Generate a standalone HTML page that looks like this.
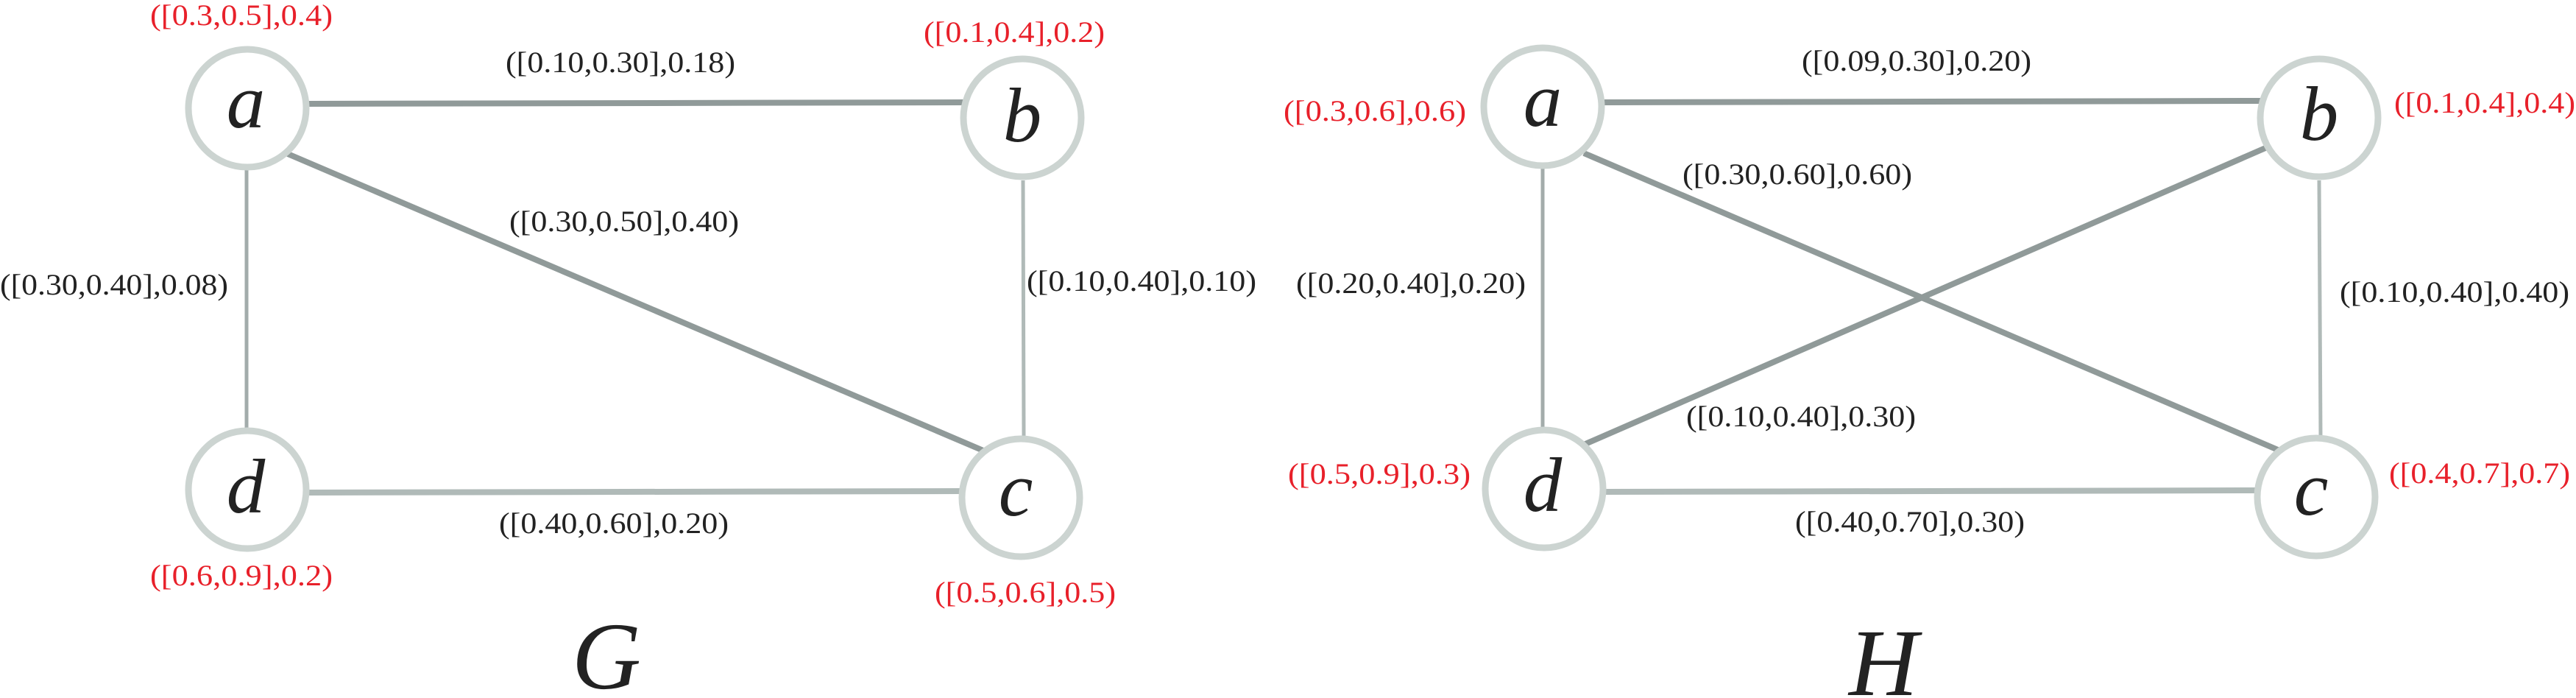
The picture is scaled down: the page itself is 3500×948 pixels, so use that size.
<!DOCTYPE html>
<html><head><meta charset="utf-8"><style>html,body{margin:0;padding:0;background:#fff}svg{display:block}
.t{font-family:"Liberation Serif","DejaVu Serif",serif}
</style></head>
<body>
<svg width="3500" height="948" viewBox="0 0 3500 948" xmlns="http://www.w3.org/2000/svg">
<g stroke-linecap="butt" fill="none">
<line x1="418" y1="141" x2="1312" y2="139" stroke="#909a99" stroke-width="8"/>
<line x1="391" y1="209" x2="1336" y2="612" stroke="#909a99" stroke-width="8"/>
<line x1="335" y1="229" x2="335" y2="586" stroke="#a3acab" stroke-width="5"/>
<line x1="1390" y1="245" x2="1391" y2="592" stroke="#b0bab8" stroke-width="5"/>
<line x1="418" y1="669" x2="1305" y2="667" stroke="#b0bab8" stroke-width="8"/>
<line x1="2180" y1="139" x2="3075" y2="137" stroke="#909a99" stroke-width="8"/>
<line x1="2152" y1="208" x2="3095" y2="611" stroke="#909a99" stroke-width="8"/>
<line x1="2154" y1="603" x2="3078" y2="201" stroke="#909a99" stroke-width="8"/>
<line x1="2096" y1="227" x2="2096" y2="584" stroke="#a3acab" stroke-width="5"/>
<line x1="3151" y1="245" x2="3153" y2="593" stroke="#b0bab8" stroke-width="5"/>
<line x1="2180" y1="668" x2="3068" y2="666" stroke="#b0bab8" stroke-width="8"/>
<g stroke="#ccd4d1" stroke-width="9" fill="#fff">
<circle cx="336" cy="147" r="80"/>
<circle cx="1389" cy="160" r="80"/>
<circle cx="336" cy="665" r="80"/>
<circle cx="1387" cy="676" r="80"/>
<circle cx="2096" cy="145" r="80"/>
<circle cx="3151" cy="160" r="80"/>
<circle cx="2098" cy="664" r="80"/>
<circle cx="3147" cy="675" r="80"/>
</g>
</g>
<g class="t" font-style="italic" font-size="105" fill="#222" text-anchor="middle">
<text x="334" y="173">a</text>
<text x="1389" y="192">b</text>
<text x="334" y="696">d</text>
<text x="1380" y="700">c</text>
<text x="2096" y="171">a</text>
<text x="3151" y="190">b</text>
<text x="2096" y="694">d</text>
<text x="3140" y="699">c</text>
<text x="824" y="935" font-size="130">G</text>
<text x="2559" y="944" font-size="130">H</text>
</g>
<g class="t" font-size="40" fill="#222" text-anchor="middle">
<text x="843" y="98" textLength="312" lengthAdjust="spacingAndGlyphs">([0.10,0.30],0.18)</text>
<text x="848" y="314" textLength="312" lengthAdjust="spacingAndGlyphs">([0.30,0.50],0.40)</text>
<text x="155" y="400" textLength="310" lengthAdjust="spacingAndGlyphs">([0.30,0.40],0.08)</text>
<text x="1551" y="395" textLength="312" lengthAdjust="spacingAndGlyphs">([0.10,0.40],0.10)</text>
<text x="834" y="724" textLength="312" lengthAdjust="spacingAndGlyphs">([0.40,0.60],0.20)</text>
<text x="2604" y="96" textLength="312" lengthAdjust="spacingAndGlyphs">([0.09,0.30],0.20)</text>
<text x="2442" y="250" textLength="312" lengthAdjust="spacingAndGlyphs">([0.30,0.60],0.60)</text>
<text x="1917" y="398" textLength="312" lengthAdjust="spacingAndGlyphs">([0.20,0.40],0.20)</text>
<text x="3335" y="410" textLength="312" lengthAdjust="spacingAndGlyphs">([0.10,0.40],0.40)</text>
<text x="2447" y="579" textLength="312" lengthAdjust="spacingAndGlyphs">([0.10,0.40],0.30)</text>
<text x="2595" y="722" textLength="312" lengthAdjust="spacingAndGlyphs">([0.40,0.70],0.30)</text>
</g>
<g class="t" font-size="40" fill="#e8202a" text-anchor="middle">
<text x="328" y="34" textLength="248" lengthAdjust="spacingAndGlyphs">([0.3,0.5],0.4)</text>
<text x="1378" y="57" textLength="246" lengthAdjust="spacingAndGlyphs">([0.1,0.4],0.2)</text>
<text x="328" y="795" textLength="248" lengthAdjust="spacingAndGlyphs">([0.6,0.9],0.2)</text>
<text x="1393" y="818" textLength="246" lengthAdjust="spacingAndGlyphs">([0.5,0.6],0.5)</text>
<text x="1868" y="164" textLength="248" lengthAdjust="spacingAndGlyphs">([0.3,0.6],0.6)</text>
<text x="3376" y="153" textLength="246" lengthAdjust="spacingAndGlyphs">([0.1,0.4],0.4)</text>
<text x="1874" y="657" textLength="248" lengthAdjust="spacingAndGlyphs">([0.5,0.9],0.3)</text>
<text x="3369" y="656" textLength="246" lengthAdjust="spacingAndGlyphs">([0.4,0.7],0.7)</text>
</g>
</svg>
</body></html>
